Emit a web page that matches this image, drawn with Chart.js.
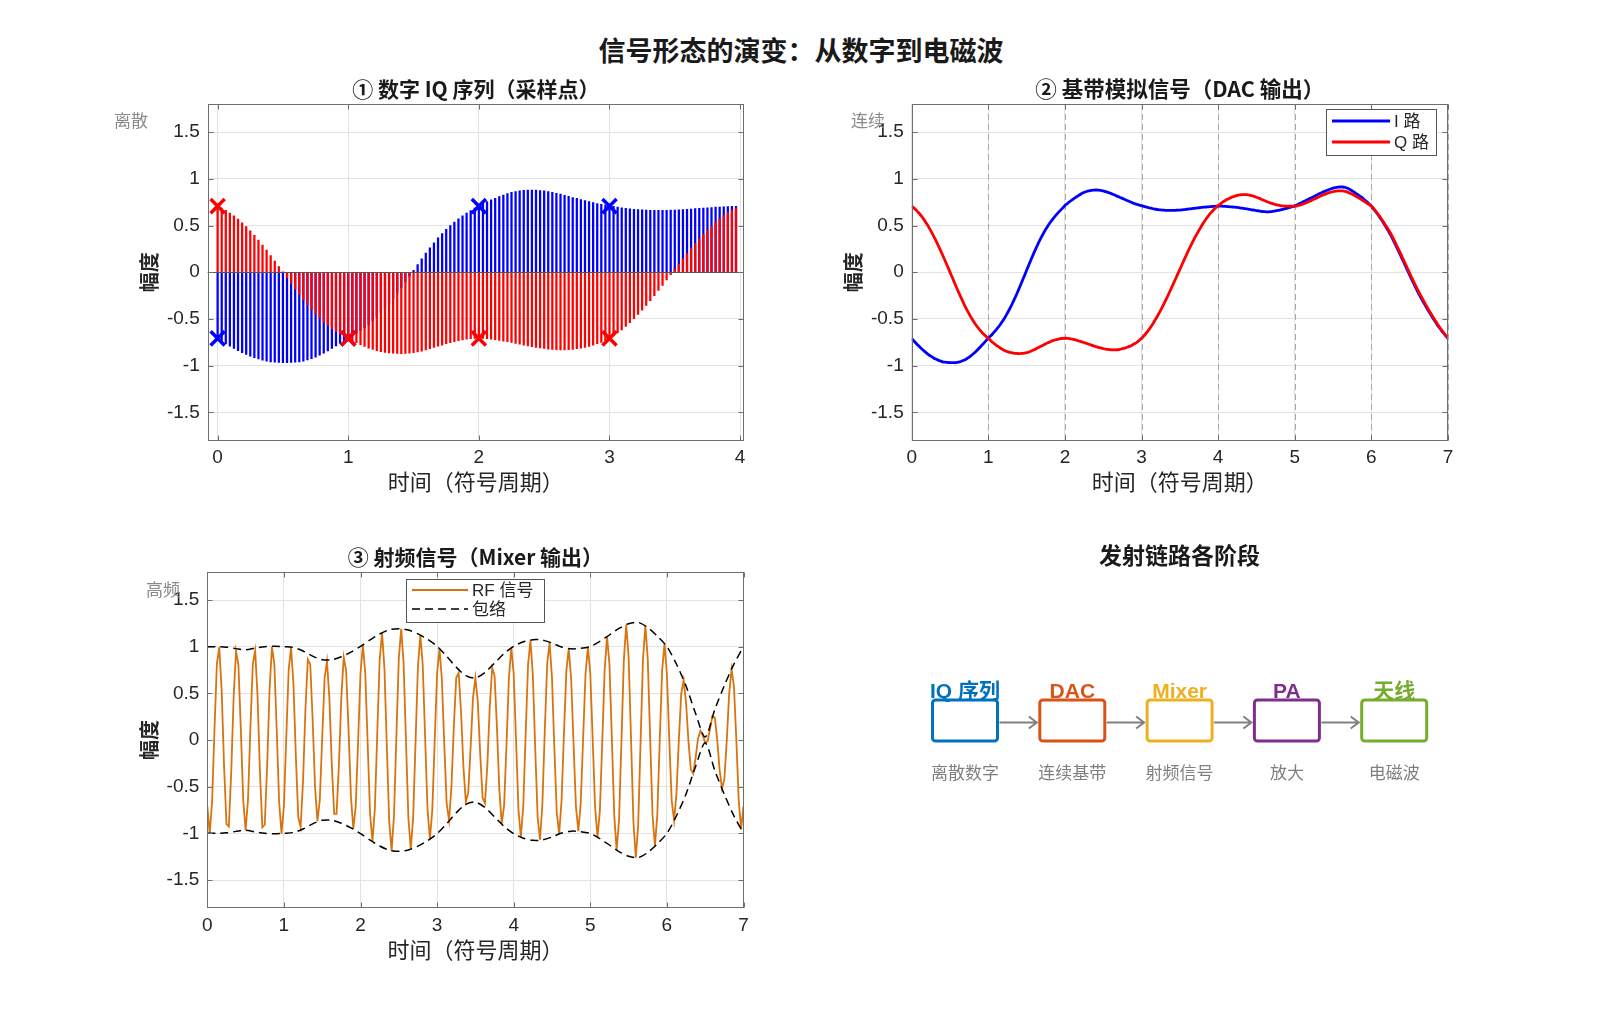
<!DOCTYPE html>
<html lang="zh-CN">
<head>
<meta charset="utf-8">
<title>信号形态的演变：从数字到电磁波</title>
<script src="https://cdn.jsdelivr.net/npm/chart.js@4.4.1/dist/chart.umd.min.js"></script>
<style>
  html, body { margin: 0; padding: 0; background: #fff; }
  #page { position: relative; width: 1600px; height: 1018px; overflow: hidden; background: #fff; }
  #page canvas { position: absolute; }
  #mainTitle {
    position: absolute; left: 0; top: 30px; width: 1602px; line-height: 34px;
    text-align: center; color: #1a1a1a;
    font: bold 27px 'Noto Sans CJK SC', sans-serif;
  }
</style>
</head>
<body>
<div id="page">
  <div id="mainTitle">信号形态的演变：从数字到电磁波</div>
  <canvas id="chartIQ" width="660" height="460" style="left:100px;top:60px"></canvas>
  <canvas id="chartDAC" width="660" height="460" style="left:820px;top:60px"></canvas>
  <canvas id="chartRF" width="660" height="460" style="left:100px;top:520px"></canvas>
  <canvas id="chartChain" width="700" height="300" style="left:830px;top:520px"></canvas>
</div>
<script>
// samples per symbol period (t = k / 32)
const samplesPerSymbol = 32;
const stemCount = 128;

// I branch, 0..7 symbol periods
const iPath = [
  -0.707, -0.736, -0.764, -0.79, -0.815, -0.838, -0.86, -0.88, -0.898, -0.914, -0.928, -0.94, -0.95, -0.958, -0.962, -0.965,
  -0.967, -0.967, -0.966, -0.963, -0.958, -0.95, -0.939, -0.925, -0.908, -0.888, -0.866, -0.842, -0.816, -0.789, -0.762, -0.734,
  -0.707, -0.681, -0.653, -0.624, -0.593, -0.559, -0.521, -0.481, -0.436, -0.388, -0.337, -0.282, -0.225, -0.165, -0.104, -0.042,
  0.021, 0.083, 0.144, 0.204, 0.261, 0.316, 0.367, 0.415, 0.459, 0.50, 0.537, 0.571, 0.603, 0.632, 0.659, 0.686,
  0.713, 0.735, 0.755, 0.774, 0.792, 0.81, 0.826, 0.842, 0.854, 0.864, 0.871, 0.876, 0.879, 0.88, 0.879, 0.875,
  0.87, 0.862, 0.854, 0.845, 0.835, 0.823, 0.812, 0.80, 0.79, 0.778, 0.767, 0.756, 0.745, 0.735, 0.726, 0.719,
  0.713, 0.705, 0.697, 0.69, 0.685, 0.679, 0.674, 0.67, 0.667, 0.665, 0.663, 0.662, 0.662, 0.662, 0.663, 0.664,
  0.665, 0.668, 0.671, 0.674, 0.677, 0.681, 0.684, 0.687, 0.69, 0.693, 0.696, 0.698, 0.70, 0.703, 0.705, 0.706,
  0.707, 0.707, 0.706, 0.705, 0.703, 0.70, 0.698, 0.696, 0.693, 0.689, 0.685, 0.681, 0.677, 0.672, 0.668, 0.664,
  0.66, 0.656, 0.652, 0.649, 0.646, 0.646, 0.648, 0.652, 0.656, 0.661, 0.667, 0.673, 0.68, 0.687, 0.694, 0.701,
  0.71, 0.722, 0.735, 0.747, 0.76, 0.772, 0.785, 0.797, 0.81, 0.823, 0.836, 0.848, 0.86, 0.871, 0.881, 0.891,
  0.90, 0.906, 0.91, 0.912, 0.912, 0.907, 0.898, 0.886, 0.87, 0.853, 0.835, 0.818, 0.80, 0.778, 0.756, 0.732,
  0.707, 0.676, 0.643, 0.607, 0.57, 0.53, 0.488, 0.445, 0.40, 0.35, 0.298, 0.245, 0.19, 0.135, 0.08, 0.025,
  -0.03, -0.085, -0.138, -0.19, -0.24, -0.287, -0.333, -0.377, -0.42, -0.462, -0.502, -0.541, -0.58, -0.614, -0.647, -0.678,
  -0.707
];

// Q branch
const qPath = [
  0.707, 0.686, 0.662, 0.634, 0.603, 0.568, 0.529, 0.488, 0.443, 0.395, 0.344, 0.291, 0.236, 0.179, 0.12, 0.061,
  0.001, -0.059, -0.12, -0.179, -0.237, -0.293, -0.348, -0.399, -0.446, -0.491, -0.533, -0.57, -0.603, -0.634, -0.661, -0.685,
  -0.707, -0.731, -0.754, -0.775, -0.794, -0.811, -0.826, -0.839, -0.849, -0.857, -0.863, -0.867, -0.869, -0.87, -0.869, -0.866,
  -0.861, -0.853, -0.843, -0.831, -0.818, -0.804, -0.791, -0.779, -0.765, -0.753, -0.742, -0.732, -0.724, -0.717, -0.711, -0.708,
  -0.706, -0.707, -0.71, -0.715, -0.721, -0.728, -0.736, -0.744, -0.752, -0.761, -0.77, -0.779, -0.788, -0.796, -0.803, -0.81,
  -0.816, -0.822, -0.826, -0.829, -0.831, -0.831, -0.829, -0.825, -0.818, -0.812, -0.803, -0.793, -0.78, -0.765, -0.75, -0.73,
  -0.707, -0.68, -0.65, -0.617, -0.58, -0.54, -0.497, -0.452, -0.405, -0.355, -0.303, -0.25, -0.195, -0.14, -0.083, -0.026,
  0.03, 0.088, 0.145, 0.2, 0.255, 0.307, 0.357, 0.405, 0.45, 0.493, 0.535, 0.573, 0.607, 0.638, 0.665, 0.69,
  0.712, 0.733, 0.752, 0.768, 0.782, 0.795, 0.806, 0.815, 0.822, 0.827, 0.83, 0.831, 0.83, 0.826, 0.82, 0.812,
  0.803, 0.793, 0.782, 0.77, 0.759, 0.749, 0.74, 0.731, 0.724, 0.718, 0.713, 0.71, 0.708, 0.707, 0.706, 0.706,
  0.707, 0.711, 0.717, 0.725, 0.735, 0.746, 0.757, 0.769, 0.781, 0.793, 0.805, 0.818, 0.829, 0.839, 0.848, 0.856,
  0.862, 0.867, 0.87, 0.871, 0.87, 0.865, 0.857, 0.846, 0.834, 0.82, 0.806, 0.79, 0.774, 0.758, 0.741, 0.724,
  0.707, 0.678, 0.647, 0.613, 0.578, 0.54, 0.5, 0.46, 0.417, 0.368, 0.317, 0.264, 0.21, 0.155, 0.1, 0.045,
  -0.01, -0.065, -0.118, -0.17, -0.22, -0.268, -0.315, -0.36, -0.405, -0.448, -0.49, -0.53, -0.57, -0.606, -0.641, -0.675,
  -0.707
];

// mixer output samples
const rfSignal = [
  -0.707, -1.006, -0.662, 0.11, 0.815, 0.994, 0.529, -0.277, -0.898, -0.926, -0.344, 0.459, 0.95, 0.804, 0.12, -0.639,
  -0.967, -0.642, 0.12, 0.808, 0.958, 0.465, -0.348, -0.936, -0.908, -0.281, 0.533, 0.998, 0.816, 0.11, -0.661, -1.003,
  -0.707, 0.035, 0.754, 0.989, 0.593, -0.178, -0.826, -0.933, -0.436, 0.332, 0.863, 0.812, 0.225, -0.499, -0.869, -0.642,
  0.021, 0.662, 0.843, 0.443, -0.261, -0.792, -0.791, -0.257, 0.459, 0.886, 0.742, 0.114, -0.603, -0.954, -0.711, -0.016,
  0.713, 1.02, 0.71, -0.042, -0.792, -1.088, -0.736, 0.069, 0.854, 1.149, 0.77, -0.069, -0.879, -1.185, -0.803, 0.046,
  0.87, 1.191, 0.826, -0.011, -0.835, -1.17, -0.829, -0.018, 0.79, 1.124, 0.803, 0.026, -0.745, -1.061, -0.75, -0.008,
  0.713, 0.979, 0.65, -0.052, -0.685, -0.862, -0.497, 0.154, 0.667, 0.721, 0.303, -0.291, -0.662, -0.567, -0.083, 0.451,
  0.665, 0.41, -0.145, -0.618, -0.677, -0.264, 0.357, 0.772, 0.69, 0.141, -0.535, -0.899, -0.70, -0.046, 0.665, 0.987,
  0.707, -0.018, -0.752, -1.042, -0.703, 0.067, 0.806, 1.068, 0.693, -0.098, -0.83, -1.069, -0.677, 0.109, 0.82, 1.044,
  0.66, -0.097, -0.782, -1.003, -0.646, 0.073, 0.74, 0.978, 0.656, -0.04, -0.713, -0.978, -0.68, 0.014, 0.706, 0.995,
  0.71, 0.008, -0.717, -1.041, -0.76, -0.018, 0.757, 1.107, 0.81, 0.021, -0.805, -1.178, -0.86, -0.023, 0.848, 1.235,
  0.90, 0.028, -0.87, -1.261, -0.912, -0.03, 0.857, 1.225, 0.87, 0.023, -0.806, -1.137, -0.80, -0.014, 0.741, 1.03,
  0.707, -0.001, -0.647, -0.863, -0.57, 0.007, 0.5, 0.64, 0.40, -0.013, -0.317, -0.36, -0.19, 0.014, 0.1, 0.049,
  -0.03, -0.014, 0.118, 0.255, 0.24, 0.013, -0.315, -0.521, -0.42, -0.01, 0.49, 0.757, 0.58, 0.006, -0.641, -0.957,
  -0.707
];

// envelope, every 1/8 symbol period
const envelopeStep = 8;
const envelope = [
  1.0, 1.0, 0.995, 0.979, 0.967, 0.985, 1.0, 1.005,
  1.0, 0.991, 0.954, 0.898, 0.861, 0.859, 0.892, 0.942,
  1.004, 1.072, 1.136, 1.18, 1.193, 1.178, 1.137, 1.079,
  1.004, 0.897, 0.78, 0.69, 0.666, 0.723, 0.824, 0.926,
  1.003, 1.052, 1.075, 1.071, 1.039, 0.997, 0.977, 0.982,
  1.002, 1.057, 1.125, 1.195, 1.246, 1.26, 1.205, 1.113,
  1.0, 0.812, 0.578, 0.283, 0.032, 0.326, 0.583, 0.813,
  1.0
];

// QPSK symbols marked in panel 1
const symbolTimes = [0, 1, 2, 3];
const symbolI = [-0.707, -0.707, 0.707, 0.707];
const symbolQ = [0.707, -0.707, -0.707, -0.707];

const yTicks = [-1.5, -1, -0.5, 0, 0.5, 1, 1.5];
const iqTicks = [0, 1, 2, 3, 4];
const timeTicks = [0, 1, 2, 3, 4, 5, 6, 7];

const stageNames = ['IQ 序列', 'DAC', 'Mixer', 'PA', '天线'];
const stageNotes = ['离散数字', '连续基带', '射频信号', '放大', '电磁波'];
const stageColors = ['#0072BD', '#D95319', '#EDB120', '#7E2F8E', '#77AC30'];

const LATIN = "'Liberation Sans', Arial, 'Noto Sans CJK SC', sans-serif";
const CJK = "'Noto Sans CJK SC', 'Liberation Sans', sans-serif";
const INK = '#262626';
const GRID = '#e2e2e2';
const FRAME = '#6e6e6e';
const RF_COLOR = '#D9730D';

const bySample = arr => arr.map((v, k) => ({ x: k / samplesPerSymbol, y: v }));

// MATLAB-like axes decoration: frame, inward ticks, titles, tags, legends
const matlabAxes = {
  id: 'matlabAxes',
  beforeDatasetsDraw(chart, args, o) {
    if (!o.symbolLines) return;
    const { ctx, chartArea: a, scales: { x } } = chart;
    ctx.save();
    ctx.strokeStyle = '#a8a8a8';
    ctx.lineWidth = 1;
    ctx.setLineDash([6, 4]);
    x.ticks.forEach(t => {
      const px = Math.round(x.getPixelForValue(t.value)) + 0.5;
      ctx.beginPath(); ctx.moveTo(px, a.top); ctx.lineTo(px, a.bottom); ctx.stroke();
    });
    ctx.restore();
  },
  afterDatasetsDraw(chart, args, o) {
    if (!o.baseline) return;
    const { ctx, chartArea: a, scales: { y } } = chart;
    const py = Math.round(y.getPixelForValue(0)) + 0.5;
    ctx.save();
    ctx.strokeStyle = '#555';
    ctx.lineWidth = 1.2;
    ctx.beginPath(); ctx.moveTo(a.left, py); ctx.lineTo(a.right, py); ctx.stroke();
    ctx.restore();
  },
  afterDraw(chart, args, o) {
    const { ctx, chartArea: a, scales: { x, y } } = chart;
    const L = Math.round(a.left) + 0.5, R = Math.round(a.right) - 0.5;
    const T = Math.round(a.top) + 0.5, B = Math.round(a.bottom) - 0.5;
    ctx.save();
    ctx.strokeStyle = FRAME;
    ctx.lineWidth = 1;
    ctx.strokeRect(L, T, R - L, B - T);
    ctx.beginPath();
    x.ticks.forEach(t => {
      const px = Math.round(x.getPixelForValue(t.value)) + 0.5;
      ctx.moveTo(px, B); ctx.lineTo(px, B - 5);
      ctx.moveTo(px, T); ctx.lineTo(px, T + 5);
    });
    y.ticks.forEach(t => {
      const py = Math.round(y.getPixelForValue(t.value)) + 0.5;
      ctx.moveTo(L, py); ctx.lineTo(L + 5, py);
      ctx.moveTo(R, py); ctx.lineTo(R - 5, py);
    });
    ctx.stroke();

    ctx.textAlign = 'center';
    ctx.textBaseline = 'middle';
    ctx.fillStyle = '#1a1a1a';
    ctx.font = 'bold ' + o.titleSize + 'px ' + CJK;
    ctx.fillText(o.title, (a.left + a.right) / 2, o.titleY);

    ctx.fillStyle = '#8a8a8a';
    ctx.font = '17px ' + CJK;
    ctx.fillText(o.tag, o.tagX, o.tagY);

    if (o.legend) {
      const g = o.legend;
      ctx.fillStyle = '#fff';
      ctx.fillRect(g.x, g.y, g.w, g.h);
      ctx.strokeStyle = '#555';
      ctx.lineWidth = 1;
      ctx.strokeRect(g.x + 0.5, g.y + 0.5, g.w, g.h);
      g.items.forEach((it, i) => {
        const cy = g.y + g.first + i * g.gap;
        ctx.strokeStyle = it.color;
        ctx.lineWidth = it.width;
        ctx.setLineDash(it.dash ? [8, 5] : []);
        ctx.beginPath(); ctx.moveTo(g.x + 6, cy); ctx.lineTo(g.x + g.line, cy); ctx.stroke();
        ctx.setLineDash([]);
        ctx.fillStyle = INK;
        ctx.textAlign = 'left';
        ctx.font = '17px ' + LATIN;
        ctx.fillText(it.label, g.x + g.line + 4, cy + 1);
      });
    }
    ctx.restore();
  }
};

function panelOptions(c) {
  return {
    responsive: false,
    animation: false,
    devicePixelRatio: 1,
    layout: { padding: { left: 0, top: c.top, right: c.right, bottom: 0 } },
    plugins: { legend: { display: false }, tooltip: { enabled: false }, matlabAxes: c.deco },
    scales: {
      x: {
        type: 'linear', min: c.xMin, max: c.xMax, offset: false,
        afterBuildTicks: s => { s.ticks = c.xTicks.map(v => ({ value: v })); },
        afterFit: s => { s.height = c.xAxisH; },
        grid: { color: GRID, drawTicks: false, offset: false },
        border: { display: false },
        ticks: { color: INK, font: { family: LATIN, size: 19 }, padding: 6, maxRotation: 0, autoSkip: false, callback: v => String(v) },
        title: { display: true, text: '时间（符号周期）', color: INK, font: { family: CJK, size: 22 }, padding: { top: 0, bottom: c.xTitlePad } }
      },
      y: {
        type: 'linear', min: -1.8, max: 1.8,
        afterBuildTicks: s => { s.ticks = yTicks.map(v => ({ value: v })); },
        afterFit: s => { s.width = c.yAxisW; },
        grid: { color: GRID, drawTicks: false },
        border: { display: false },
        ticks: { color: INK, font: { family: LATIN, size: 19 }, padding: 8, callback: v => String(v) },
        title: { display: true, text: '幅度', color: INK, font: { family: CJK, size: 20, weight: 'bold' }, padding: { top: c.yTitlePad, bottom: 0 } }
      }
    }
  };
}

// ① digital IQ samples
new Chart(document.getElementById('chartIQ'), {
  type: 'bar',
  data: {
    datasets: [
      { label: 'I', data: bySample(iPath.slice(0, stemCount)), backgroundColor: '#0000ff', barThickness: 1.6, grouped: false, order: 3 },
      { label: 'Q', data: bySample(qPath.slice(0, stemCount)), backgroundColor: '#ff0000', barThickness: 1.6, grouped: false, order: 2 },
      { type: 'line', label: 'I 符号', data: symbolTimes.map((t, i) => ({ x: t, y: symbolI[i] })), showLine: false,
        pointStyle: 'crossRot', pointRadius: 10, pointBorderWidth: 3.5, pointBorderColor: '#0000ff', borderColor: '#0000ff', order: 1 },
      { type: 'line', label: 'Q 符号', data: symbolTimes.map((t, i) => ({ x: t, y: symbolQ[i] })), showLine: false,
        pointStyle: 'crossRot', pointRadius: 10, pointBorderWidth: 3.5, pointBorderColor: '#ff0000', borderColor: '#ff0000', order: 0 }
    ]
  },
  options: panelOptions({
    top: 44, right: 16, yAxisW: 107.7, xAxisH: 79.5, xTitlePad: 25.3, yTitlePad: 37,
    xMin: -0.076, xMax: 4.03, xTicks: iqTicks,
    deco: { title: '① 数字 IQ 序列（采样点）', titleSize: 21, titleY: 29, tag: '离散', tagX: 31, tagY: 61, baseline: true }
  }),
  plugins: [matlabAxes]
});

// ② baseband analog (DAC output)
new Chart(document.getElementById('chartDAC'), {
  type: 'line',
  data: {
    datasets: [
      { label: 'I 路', data: bySample(iPath), borderColor: '#0000ff', borderWidth: 2.8, pointRadius: 0, tension: 0.4, order: 1 },
      { label: 'Q 路', data: bySample(qPath), borderColor: '#ff0000', borderWidth: 2.8, pointRadius: 0, tension: 0.4, order: 0 }
    ]
  },
  options: panelOptions({
    top: 44, right: 32, yAxisW: 91.7, xAxisH: 79.5, xTitlePad: 25.3, yTitlePad: 21,
    xMin: 0, xMax: 7, xTicks: timeTicks,
    deco: {
      title: '② 基带模拟信号（DAC 输出）', titleSize: 21.5, titleY: 29, tag: '连续', tagX: 48, tagY: 61, symbolLines: true,
      legend: { x: 506, y: 49, w: 110, h: 46, first: 12, gap: 21, line: 64,
        items: [{ label: 'I 路', color: '#0000ff', width: 3 }, { label: 'Q 路', color: '#ff0000', width: 3 }] }
    }
  }),
  plugins: [matlabAxes]
});

// ③ RF signal (mixer output)
new Chart(document.getElementById('chartRF'), {
  type: 'line',
  data: {
    datasets: [
      { label: 'RF 信号', data: bySample(rfSignal), borderColor: RF_COLOR, borderWidth: 1.8, pointRadius: 0, tension: 0, order: 2 },
      { label: '包络', data: envelope.map((v, k) => ({ x: k / envelopeStep, y: v })), borderColor: '#000', borderWidth: 1.5,
        borderDash: [8, 5], pointRadius: 0, tension: 0.3, order: 1 },
      { label: '包络-', data: envelope.map((v, k) => ({ x: k / envelopeStep, y: -v })), borderColor: '#000', borderWidth: 1.5,
        borderDash: [8, 5], pointRadius: 0, tension: 0.3, order: 0 }
    ]
  },
  options: panelOptions({
    top: 52, right: 16.5, yAxisW: 107.3, xAxisH: 72, xTitlePad: 17, yTitlePad: 37,
    xMin: 0, xMax: 7, xTicks: timeTicks,
    deco: {
      title: '③ 射频信号（Mixer 输出）', titleSize: 21, titleY: 37, tag: '高频', tagX: 63, tagY: 70,
      legend: { x: 306, y: 59, w: 138, h: 43, first: 11, gap: 19, line: 62,
        items: [{ label: 'RF 信号', color: RF_COLOR, width: 2 }, { label: '包络', color: '#000', width: 1.5, dash: true }] }
    }
  }),
  plugins: [matlabAxes]
});

// transmit chain block diagram
const chainBlocks = {
  id: 'chainBlocks',
  afterDraw(chart) {
    const { ctx, chartArea: a, scales: { x, y } } = chart;
    const w = 65, h = 41;
    const cy = y.getPixelForValue(0);
    ctx.save();
    ctx.textAlign = 'center';
    ctx.textBaseline = 'middle';
    ctx.fillStyle = '#1a1a1a';
    ctx.font = 'bold 23px ' + CJK;
    ctx.fillText('发射链路各阶段', (a.left + a.right) / 2, 35);
    stageNames.forEach((name, i) => {
      const cx = x.getPixelForValue(i + 1);
      ctx.strokeStyle = stageColors[i];
      ctx.lineWidth = 3;
      ctx.beginPath();
      ctx.roundRect(cx - w / 2, cy - h / 2, w, h, 3);
      ctx.stroke();
      ctx.fillStyle = stageColors[i];
      ctx.font = 'bold 21px ' + LATIN;
      ctx.fillText(name, cx, cy - h / 2 - 8);
      ctx.fillStyle = '#7f7f7f';
      ctx.font = '17px ' + CJK;
      ctx.fillText(stageNotes[i], cx, cy + h / 2 + 32);
      if (i < stageNames.length - 1) {
        const x0 = cx + w / 2 + 2, x1 = x.getPixelForValue(i + 2) - w / 2 - 3, ay = cy + 2;
        ctx.strokeStyle = '#808080';
        ctx.lineWidth = 2;
        ctx.beginPath();
        ctx.moveTo(x0, ay); ctx.lineTo(x1, ay);
        ctx.moveTo(x1 - 8, ay - 6); ctx.lineTo(x1, ay); ctx.lineTo(x1 - 8, ay + 6);
        ctx.stroke();
      }
    });
    ctx.restore();
  }
};

new Chart(document.getElementById('chartChain'), {
  type: 'scatter',
  data: { datasets: [{ data: stageNames.map((n, i) => ({ x: i + 1, y: 0 })), pointRadius: 0 }] },
  options: {
    responsive: false,
    animation: false,
    devicePixelRatio: 1,
    layout: { padding: { left: 27.7, right: 28.5, top: 101, bottom: 0 } },
    plugins: { legend: { display: false }, tooltip: { enabled: false } },
    scales: {
      x: { type: 'linear', min: 0, max: 6, display: false },
      y: { type: 'linear', min: -1, max: 1, display: false }
    }
  },
  plugins: [chainBlocks]
});
</script>
</body>
</html>
